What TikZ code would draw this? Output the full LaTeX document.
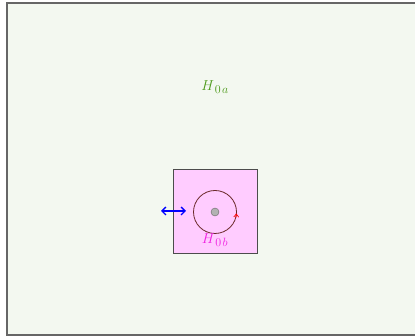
\documentclass[tikz,border=0pt]{standalone}
\usetikzlibrary{arrows.meta, positioning, calc}

\definecolor{paleground}{HTML}{F3F8F0}
\definecolor{boxpink}{HTML}{FFCCFF}
\definecolor{labelgreen}{HTML}{4C9A1A}
\definecolor{labelmagenta}{HTML}{F020E0}
\definecolor{ringred}{HTML}{6A2828}

\newcommand{\hsub}[2]{$H_{\,\mbox{\fontsize{12}{12}\selectfont$#1\mkern2mu#2$}}$}

\begin{document}
\begin{tikzpicture}[
    x=1pt, y=1pt,
    >=Latex,
    region/.style={draw=black!60, line width=1.2pt, fill=paleground},
    subregion/.style={
        draw=black!70, line width=0.6pt, fill=boxpink,
        minimum width=84pt, minimum height=84pt, inner sep=0pt
    },
    ring/.style={draw=ringred, line width=0.8pt, circle, minimum size=43pt, inner sep=0pt},
    core/.style={draw=black!60, fill=black!30, circle, minimum size=8pt, inner sep=0pt},
    greenlabel/.style={text=labelgreen, font=\fontsize{15}{17}\selectfont},
    pinklabel/.style={text=labelmagenta, font=\fontsize{15}{17}\selectfont},
    shiftarrow/.style={draw=blue, line width=1.3pt,
        {Straight Barb[length=4pt, width=8pt]}-{Straight Barb[length=4pt, width=8pt]}},
    turnarrow/.style={draw=red, line width=0.7pt, -{Straight Barb[length=3pt, width=5pt]}}
]

\useasboundingbox (0,0) rectangle (415,336);

% ==========================================
% OUTER DOMAIN
% ==========================================

\path[region] (7,1) rectangle (422,333);
\node[greenlabel] (Hzeroa) at (215,249) {\hsub{0}{a}};

% ==========================================
% INNER DOMAIN
% ==========================================

\node[subregion] (Box) at (215,125) {};
\node[ring] (Ring) at (215,124) {};
\node[core] (Core) at (Ring.center) {};
\node[pinklabel] (Hzerob) [below=-4pt of Ring] {\hsub{0}{b}};

% rotation mark on the ring
\draw[turnarrow] ($(Ring.center)+(-16:21.5)$) arc[start angle=-16, end angle=-4, radius=21.5];

% translation arrow
\coordinate (ShiftL) at (161,125);
\coordinate (ShiftR) at (186,125);
\draw[shiftarrow] (ShiftL) -- (ShiftR);

\end{tikzpicture}
\end{document}
